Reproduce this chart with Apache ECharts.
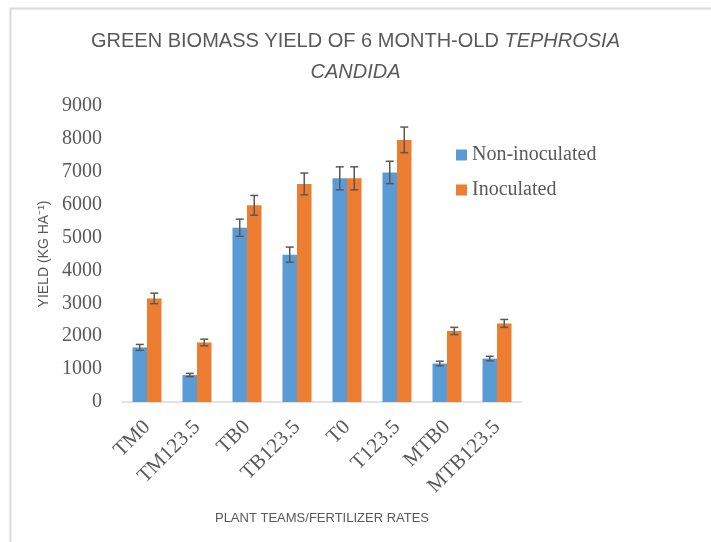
<!DOCTYPE html>
<html>
<head>
<meta charset="utf-8">
<script src="https://cdn.jsdelivr.net/npm/echarts@6/dist/echarts.min.js"></script>
<style>
  html, body { margin: 0; padding: 0; background: #fff; }
  #main { width: 711px; height: 542px; }
</style>
</head>
<body>
<div id="main"></div>
<script>
var categories = ['TM0', 'TM123.5', 'TB0', 'TB123.5', 'T0', 'T123.5', 'MTB0', 'MTB123.5'];
var nonInoculated = [1660, 820, 5300, 4480, 6800, 6980, 1170, 1320];
var nonInoculatedErr = [90, 50, 260, 230, 350, 340, 70, 70];
var inoculated = [3150, 1810, 5980, 6630, 6800, 7970, 2160, 2390];
var inoculatedErr = [160, 100, 300, 330, 350, 390, 110, 120];
var yTicks = [0, 1000, 2000, 3000, 4000, 5000, 6000, 7000, 8000, 9000];

var chart = echarts.init(document.getElementById('main'));
var grey = '#595959';
var barW = 14.5;

// error bar data: [index, low, high]
function errData(vals, errs) {
  var out = [];
  for (var i = 0; i < vals.length; i++) {
    out.push([i, vals[i] - errs[i], vals[i] + errs[i]]);
  }
  return out;
}

function errSeries(vals, errs, shift) {
  return {
    type: 'custom',
    silent: true,
    z: 5,
    data: errData(vals, errs),
    encode: { x: 0, y: [1, 2] },
    renderItem: function (params, api) {
      var lo = api.coord([api.value(0), api.value(1)]);
      var hi = api.coord([api.value(0), api.value(2)]);
      var x = lo[0] + shift;
      var cap = 4;
      var st = { stroke: grey, lineWidth: 1.5 };
      return {
        type: 'group',
        children: [
          { type: 'line', shape: { x1: x, y1: lo[1], x2: x, y2: hi[1] }, style: st },
          { type: 'line', shape: { x1: x - cap, y1: lo[1], x2: x + cap, y2: lo[1] }, style: st },
          { type: 'line', shape: { x1: x - cap, y1: hi[1], x2: x + cap, y2: hi[1] }, style: st }
        ]
      };
    }
  };
}

var option = {
  backgroundColor: '#fff',
  animation: false,
  graphic: [{
    type: 'rect',
    shape: { x: 10.5, y: 8.5, width: 800, height: 600 },
    style: { fill: 'none', stroke: '#d9d9d9', lineWidth: 2 },
    silent: true
  }],
  title: {
    text: '{n|GREEN BIOMASS YIELD OF 6 MONTH-OLD }{i|TEPHROSIA}\n{i|CANDIDA}',
    left: 'center',
    top: 21,
    textStyle: {
      rich: {
        n: { fontFamily: 'Liberation Sans', fontSize: 20, fontWeight: 'normal', color: grey, lineHeight: 31 },
        i: { fontFamily: 'Liberation Sans', fontSize: 20, fontWeight: 'normal', color: grey, fontStyle: 'italic', lineHeight: 31 }
      }
    }
  },
  legend: {
    data: ['Non-inoculated', 'Inoculated'],
    orient: 'vertical',
    left: 451,
    top: 140,
    itemWidth: 11,
    itemHeight: 11,
    itemGap: 15,
    icon: 'rect',
    textStyle: { fontFamily: 'Liberation Serif', fontSize: 20, color: grey }
  },
  grid: { left: 122, right: 189, top: 106, bottom: 140, containLabel: false },
  xAxis: {
    type: 'category',
    data: categories,
    name: 'PLANT TEAMS/FERTILIZER RATES',
    nameLocation: 'middle',
    nameGap: 110,
    nameTextStyle: { fontFamily: 'Liberation Sans', fontSize: 13, color: grey },
    axisLine: { lineStyle: { color: '#d9d9d9', width: 1.5 } },
    axisTick: { show: false },
    axisLabel: {
      rotate: 45,
      interval: 0,
      margin: 22,
      fontFamily: 'Liberation Serif',
      fontSize: 21,
      color: grey
    }
  },
  yAxis: {
    type: 'value',
    min: yTicks[0],
    max: yTicks[yTicks.length - 1],
    interval: 1000,
    name: 'YIELD (KG HA\u207B\u00B9)',
    nameLocation: 'middle',
    nameGap: 68,
    nameTextStyle: { fontFamily: 'Liberation Sans', fontSize: 14, color: grey },
    axisLine: { show: false },
    axisTick: { show: false },
    splitLine: { show: false },
    axisLabel: {
      margin: 20,
      fontFamily: 'Liberation Serif',
      fontSize: 20,
      color: grey,
      formatter: function (v) { return String(v); }
    }
  },
  series: [
    {
      name: 'Non-inoculated',
      type: 'bar',
      data: nonInoculated,
      barWidth: barW,
      barGap: '0%',
      itemStyle: { color: '#5B9BD5' }
    },
    {
      name: 'Inoculated',
      type: 'bar',
      data: inoculated,
      barWidth: barW,
      barGap: '0%',
      itemStyle: { color: '#ED7D31' }
    },
    errSeries(nonInoculated, nonInoculatedErr, -barW / 2),
    errSeries(inoculated, inoculatedErr, barW / 2)
  ]
};

chart.setOption(option);
</script>
</body>
</html>
